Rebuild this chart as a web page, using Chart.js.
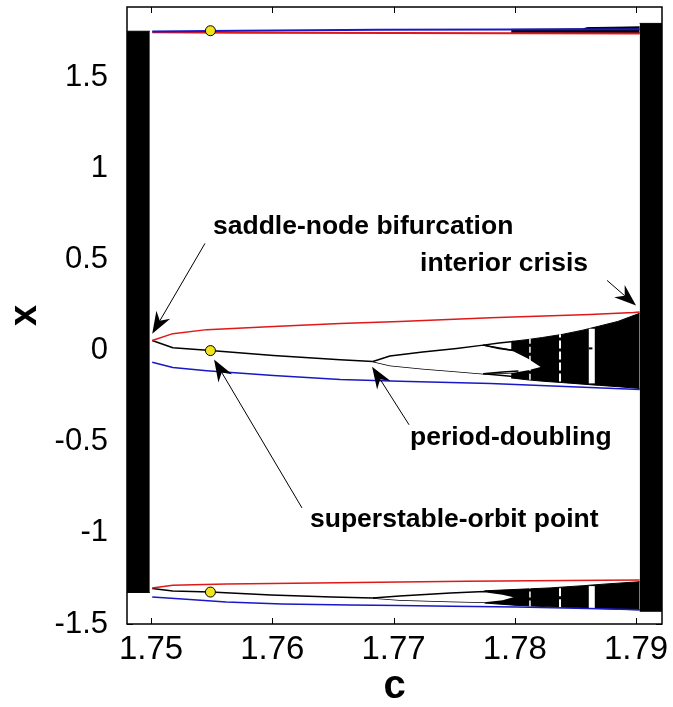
<!DOCTYPE html>
<html><head><meta charset="utf-8">
<script src="https://cdn.jsdelivr.net/npm/chart.js@4/dist/chart.umd.min.js"></script>
<style>html,body{margin:0;padding:0;background:#fff;} canvas{display:block;}</style>
</head><body>
<canvas id="c" width="673" height="707"></canvas>
<script>
// ---- axis ticks ----
const cTicks = [1.75, 1.76, 1.77, 1.78, 1.79];
const xTicks = [-1.5, -1, -0.5, 0, 0.5, 1, 1.5];

// ---- chaotic bands ----
const cLeftBand = [1.7480, 1.7499];
const xLeftHi = [1.752, 1.752];
const xLeftLo = [-1.327, -1.327];

const cRightBand = [1.7903, 1.7925];
const xRightHi = [1.795, 1.795];
const xRightLo = [-1.43, -1.43];

const cMidBand = [1.7797, 1.7810, 1.7823, 1.7840, 1.7856, 1.7870, 1.7885, 1.7903];
const xMidHi = [0.050, 0.060, 0.072, 0.090, 0.112, 0.135, 0.160, 0.205];
const xMidLo = [-0.150, -0.160, -0.168, -0.176, -0.184, -0.191, -0.198, -0.208];

const cTopBand = [1.7797, 1.7856, 1.7860, 1.7903];
const xTopHi = [1.762, 1.765, 1.772, 1.776];
const xTopLo = [1.742, 1.742, 1.742, 1.742];

const cBotBand = [1.7775, 1.7802, 1.7829, 1.7856, 1.7876, 1.7903];
const xBotHi = [-1.318, -1.310, -1.302, -1.290, -1.280, -1.268];
const xBotLo = [-1.385, -1.398, -1.406, -1.412, -1.417, -1.423];

// ---- white gaps (periodic windows, lenses) ----
const cMidLens = [1.7683, 1.7697, 1.7724, 1.7752, 1.7774, 1.7799, 1.7811, 1.7822];
const xMidLensHi = [-0.060, -0.030, -0.008, 0.012, 0.030, 0.000, -0.040, -0.088];
const xMidLensLo = [-0.060, -0.082, -0.099, -0.115, -0.127, -0.122, -0.108, -0.088];

const cBotLens = [1.7683, 1.7705, 1.7747, 1.7775, 1.7790, 1.7800];
const xBotLensHi = [-1.357, -1.346, -1.330, -1.322, -1.335, -1.350];
const xBotLensLo = [-1.357, -1.368, -1.376, -1.380, -1.370, -1.350];

const cWindows = [1.78125, 1.78373, 1.78635];
const xWinMidLo = [-0.160, -0.170, -0.180];
const xWinMidHi = [0.066, 0.090, 0.120];
const xWinBotLo = [-1.404, -1.408, -1.412];
const xWinBotHi = [-1.300, -1.296, -1.292];

// ---- orbit branches, middle ----
const cRedMid = [1.7501, 1.7518, 1.7546, 1.7601, 1.7656, 1.7705, 1.7780, 1.7862, 1.7898, 1.7903];
const xRedMid = [0.055, 0.093, 0.115, 0.132, 0.148, 0.159, 0.180, 0.198, 0.209, 0.212];
const cBlueMid = [1.7501, 1.7518, 1.7546, 1.7601, 1.7656, 1.7705, 1.7780, 1.7862, 1.7903];
const xBlueMid = [-0.064, -0.093, -0.110, -0.137, -0.159, -0.168, -0.181, -0.203, -0.214];
const cBlackMid = [1.7501, 1.7518, 1.7549, 1.7601, 1.7656, 1.7683];
const xBlackMid = [0.055, 0.016, 0.000, -0.027, -0.050, -0.060];
const cSubA = [1.7774, 1.7787, 1.7799];
const xSubAHi = [0.030, 0.042, 0.050];
const xSubALo = [0.030, 0.012, 0.000];
const cSubB = [1.7774, 1.7790, 1.7803];
const xSubBHi = [-0.127, -0.118, -0.112];
const xSubBLo = [-0.127, -0.137, -0.145];
const cWinBlip = [1.7861, 1.7864];
const xWinBlip = [0.012, 0.012];

// ---- orbit branches, top ----
const cRedTop = [1.7501, 1.7573, 1.7705, 1.7903];
const xRedTop = [1.746, 1.744, 1.742, 1.740];
const cBlueTop = [1.7501, 1.7573, 1.7688, 1.7903];
const xBlueTop = [1.750, 1.755, 1.760, 1.763];

// ---- orbit branches, bottom ----
const cRedBot = [1.7501, 1.7518, 1.7562, 1.7636, 1.7705, 1.7760, 1.7842, 1.7903];
const xRedBot = [-1.302, -1.288, -1.281, -1.275, -1.269, -1.266, -1.262, -1.258];
const cBlueBot = [1.7501, 1.7526, 1.7562, 1.7608, 1.7664, 1.7705, 1.7747, 1.7802, 1.7879, 1.7903];
const xBlueBot = [-1.352, -1.363, -1.379, -1.390, -1.396, -1.399, -1.402, -1.407, -1.418, -1.422];
const cBlackBot = [1.7501, 1.7518, 1.7549, 1.7599, 1.7649, 1.7683];
const xBlackBot = [-1.305, -1.319, -1.325, -1.341, -1.352, -1.357];

// ---- superstable orbit points ----
const cSuper = [1.7549, 1.7549, 1.7549];
const xSuper = [1.7549, 0.0, -1.3248];

// ---- annotations (data coordinates) ----
const noteText = ["saddle-node bifurcation", "interior crisis", "period-doubling", "superstable-orbit point"];
const noteC = [1.75511, 1.77219, 1.77136, 1.76311];
const noteX = [0.681, 0.478, -0.478, -0.929];
const arrowTailC = [1.75445, 1.78761, 1.77128, 1.76245];
const arrowTailX = [0.588, 0.385, -0.407, -0.863];
const arrowTipC = [1.75010, 1.79000, 1.76823, 1.75520];
const arrowTipX = [0.092, 0.247, -0.088, -0.049];

// ---------------------------------------------------------
const RED = '#e01818', BLUE = '#1818c8', BLACK = '#000000';
const pts = (cs, xs) => cs.map((c, i) => ({x: c, y: xs[i]}));
function line(cs, xs, color, width, order, extra) {
  return Object.assign({data: pts(cs, xs), borderColor: color, borderWidth: width,
    pointRadius: 0, fill: false, order: order, tension: 0}, extra || {});
}
function band(cs, hi, lo, color, order) {
  return [
    {data: pts(cs, hi), borderColor: color, borderWidth: 1, backgroundColor: color, fill: '+1', pointRadius: 0, order: order},
    {data: pts(cs, lo), borderColor: color, borderWidth: 1, pointRadius: 0, fill: false, order: order}
  ];
}
const datasets = [];
datasets.push(...band(cLeftBand, xLeftHi, xLeftLo, BLACK, 20));
datasets.push(...band(cRightBand, xRightHi, xRightLo, BLACK, 20));
datasets.push(...band(cMidBand, xMidHi, xMidLo, BLACK, 20));
datasets.push(...band(cTopBand, xTopHi, xTopLo, BLACK, 20));
datasets.push(...band(cBotBand, xBotHi, xBotLo, BLACK, 20));
datasets.push({data: pts(cMidLens, xMidLensHi), borderColor: BLACK, borderWidth: 1.5, backgroundColor: '#fff', fill: '+1', pointRadius: 0, order: 15});
datasets.push({data: pts(cMidLens, xMidLensLo), borderColor: BLACK, borderWidth: 1.5, pointRadius: 0, fill: false, order: 15});
datasets.push({data: pts(cBotLens, xBotLensHi), borderColor: BLACK, borderWidth: 1.5, backgroundColor: '#fff', fill: '+1', pointRadius: 0, order: 15});
datasets.push({data: pts(cBotLens, xBotLensLo), borderColor: BLACK, borderWidth: 1.5, pointRadius: 0, fill: false, order: 15});
const winW = [1.5, 2, 6];
const winDash = [[6, 3], [8, 3], []];
cWindows.forEach((c, i) => {
  datasets.push(line([c, c], [xWinMidLo[i], xWinMidHi[i]], '#fff', winW[i], 12, {borderDash: winDash[i], borderCapStyle: 'butt'}));
  datasets.push(line([c, c], [xWinBotLo[i], xWinBotHi[i]], '#fff', winW[i], 12, {borderDash: winDash[i], borderCapStyle: 'butt'}));
});
datasets.push(line(cWinBlip, xWinBlip, BLACK, 2, 10));
datasets.push(line(cSubA, xSubAHi, BLACK, 1.5, 8));
datasets.push(line(cSubA, xSubALo, BLACK, 1.5, 8));
datasets.push(line(cSubB, xSubBHi, BLACK, 1.5, 8));
datasets.push(line(cSubB, xSubBLo, BLACK, 1.5, 8));
datasets.push(line(cBlackMid, xBlackMid, BLACK, 1.5, 8));
datasets.push(line(cBlackBot, xBlackBot, BLACK, 1.5, 8));
datasets.push(line(cRedMid, xRedMid, RED, 1.5, 6));
datasets.push(line(cBlueMid, xBlueMid, BLUE, 1.5, 6));
datasets.push(line(cRedTop, xRedTop, RED, 2, 6));
datasets.push(line(cBlueTop, xBlueTop, BLUE, 2, 5));
datasets.push(line(cRedBot, xRedBot, RED, 1.5, 6));
datasets.push(line(cBlueBot, xBlueBot, BLUE, 1.5, 6));
datasets.push({data: pts(cSuper, xSuper), showLine: false, pointRadius: 5, pointBackgroundColor: '#f2e41c',
  pointBorderColor: '#000', pointBorderWidth: 1, order: 1});

const FONT = '"Liberation Sans", Arial, Helvetica, sans-serif';

const decor = {
  id: 'decor',
  afterDraw(chart) {
    const {ctx, chartArea: a, scales: {x, y}} = chart;
    ctx.save();
    ctx.strokeStyle = '#000'; ctx.fillStyle = '#000'; ctx.lineWidth = 1;
    for (let i = 0; i < arrowTipC.length; i++) {
      const x0 = x.getPixelForValue(arrowTailC[i]), y0 = y.getPixelForValue(arrowTailX[i]);
      const x1 = x.getPixelForValue(arrowTipC[i]), y1 = y.getPixelForValue(arrowTipX[i]);
      const ang = Math.atan2(y1 - y0, x1 - x0);
      const L = 22, W = 8, N = 15;
      const bx = x1 - L * Math.cos(ang), by = y1 - L * Math.sin(ang);
      const nx = x1 - N * Math.cos(ang), ny = y1 - N * Math.sin(ang);
      ctx.beginPath(); ctx.moveTo(x0, y0); ctx.lineTo(nx, ny); ctx.stroke();
      ctx.beginPath();
      ctx.moveTo(x1, y1);
      ctx.lineTo(bx + W * Math.sin(ang), by - W * Math.cos(ang));
      ctx.lineTo(nx, ny);
      ctx.lineTo(bx - W * Math.sin(ang), by + W * Math.cos(ang));
      ctx.closePath(); ctx.fill();
    }
    ctx.font = 'bold 26.5px ' + FONT;
    ctx.textAlign = 'left'; ctx.textBaseline = 'middle';
    noteText.forEach((t, i) => {
      ctx.fillText(t, x.getPixelForValue(noteC[i]), y.getPixelForValue(noteX[i]));
    });
    ctx.lineWidth = 1.5; ctx.strokeStyle = '#000';
    ctx.strokeRect(a.left, a.top, a.right - a.left, a.bottom - a.top);
    ctx.lineWidth = 1;
    const T = 6;
    cTicks.forEach(v => {
      const px = Math.round(x.getPixelForValue(v)) + 0.5;
      ctx.beginPath();
      ctx.moveTo(px, a.bottom); ctx.lineTo(px, a.bottom - T);
      ctx.moveTo(px, a.top); ctx.lineTo(px, a.top + T);
      ctx.stroke();
    });
    xTicks.forEach(v => {
      const py = Math.round(y.getPixelForValue(v)) + 0.5;
      ctx.beginPath();
      ctx.moveTo(a.left, py); ctx.lineTo(a.left + T, py);
      ctx.moveTo(a.right, py); ctx.lineTo(a.right - T, py);
      ctx.stroke();
    });
    ctx.restore();
  }
};

new Chart(document.getElementById('c'), {
  type: 'line',
  data: {datasets},
  options: {
    responsive: false, animation: false, devicePixelRatio: 1,
    layout: {padding: {top: 7, right: 11, left: 0, bottom: 0}},
    plugins: {legend: {display: false}, tooltip: {enabled: false}},
    elements: {line: {borderJoinStyle: 'round'}},
    scales: {
      x: {
        type: 'linear', min: 1.74802, max: 1.79214,
        grid: {display: false, drawTicks: false}, border: {display: false},
        afterBuildTicks: s => { s.ticks = cTicks.map(v => ({value: v})); },
        afterFit: s => { s.height = 83; s.paddingLeft = 0; s.paddingRight = 0; },
        ticks: {padding: 6, color: '#000', maxRotation: 0, autoSkip: false,
          font: {family: FONT, size: 33}, callback: v => String(v)},
        title: {display: true, text: 'c', color: '#000', padding: {top: 0, bottom: 0},
          font: {family: FONT, size: 40, weight: 'bold', lineHeight: 1.0}}
      },
      y: {
        type: 'linear', min: -1.5, max: 1.885,
        grid: {display: false, drawTicks: false}, border: {display: false},
        afterBuildTicks: s => { s.ticks = xTicks.map(v => ({value: v})); },
        afterFit: s => { s.width = 127; s.paddingTop = 0; s.paddingBottom = 0; },
        ticks: {padding: 19, color: '#000', autoSkip: false,
          font: {family: FONT, size: 31}, callback: v => String(v)},
        title: {display: true, text: 'x', color: '#000', padding: {top: 3, bottom: 0},
          font: {family: FONT, size: 38, weight: 'bold'}}
      }
    }
  },
  plugins: [decor]
});
</script></body></html>
